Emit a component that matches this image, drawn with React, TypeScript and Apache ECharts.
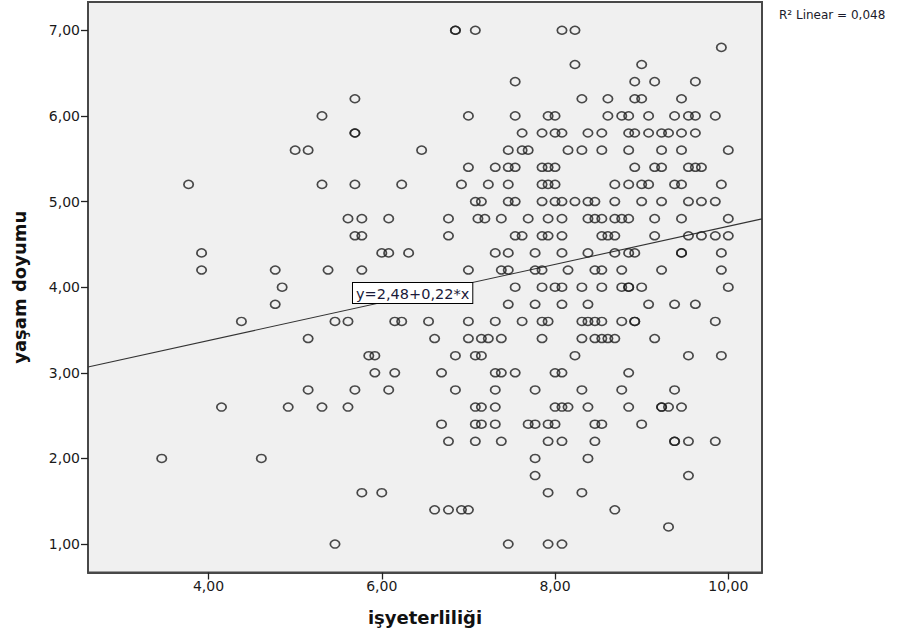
import React, { useEffect, useRef } from "react";
import * as echarts from "echarts";

// x values (işyeterliliği) of the points at each y level (yaşam doyumu)
const xAt7_0 = [6.85, 6.85, 7.08, 8.08, 8.23];
const xAt6_8 = [9.92];
const xAt6_6 = [8.23, 9.0];
const xAt6_4 = [7.54, 8.92, 9.15, 9.62];
const xAt6_2 = [5.69, 8.31, 8.61, 8.92, 9.0, 9.46];
const xAt6_0 = [5.31, 7.0, 7.54, 7.92, 8.0, 8.61, 8.77, 8.85, 9.08, 9.38, 9.54, 9.62, 9.85];
const xAt5_8 = [5.69, 5.69, 7.62, 7.85, 8.0, 8.08, 8.38, 8.54, 8.85, 8.92, 9.08, 9.23, 9.31, 9.46, 9.62];
const xAt5_6 = [5.0, 5.15, 6.46, 7.46, 7.62, 7.69, 8.15, 8.31, 8.54, 8.85, 9.23, 9.46, 10.0];
const xAt5_4 = [7.0, 7.31, 7.46, 7.54, 7.85, 7.92, 8.0, 8.92, 9.15, 9.23, 9.54, 9.62, 9.69];
const xAt5_2 = [3.77, 5.31, 5.69, 6.23, 6.92, 7.23, 7.46, 7.85, 7.92, 8.0, 8.69, 8.85, 9.0, 9.08, 9.38, 9.46, 9.92];
const xAt5_0 = [7.08, 7.15, 7.46, 7.54, 7.85, 8.0, 8.08, 8.23, 8.38, 8.46, 8.69, 9.0, 9.23, 9.54, 9.69, 9.85];
const xAt4_8 = [5.61, 5.77, 6.08, 6.77, 7.11, 7.19, 7.38, 7.69, 7.92, 8.08, 8.38, 8.46, 8.54, 8.69, 8.77, 8.85, 9.15, 9.46, 10.0];
const xAt4_6 = [5.69, 5.77, 6.77, 7.54, 7.62, 7.85, 7.92, 8.08, 8.54, 8.61, 8.69, 9.15, 9.54, 9.69, 9.85, 10.0];
const xAt4_4 = [3.92, 6.0, 6.08, 6.31, 7.31, 7.46, 7.77, 8.08, 8.38, 8.69, 8.85, 8.92, 9.46, 9.46, 9.92];
const xAt4_2 = [3.92, 4.77, 5.38, 5.77, 7.0, 7.38, 7.46, 7.77, 7.85, 8.15, 8.46, 8.54, 8.77, 9.23, 9.92];
const xAt4_0 = [4.85, 7.54, 7.85, 8.0, 8.08, 8.31, 8.54, 8.77, 8.85, 8.85, 9.0, 10.0];
const xAt3_8 = [4.77, 7.46, 7.77, 8.08, 8.38, 9.08, 9.38, 9.62];
const xAt3_6 = [4.38, 5.46, 5.61, 6.15, 6.23, 6.54, 7.0, 7.31, 7.62, 7.85, 7.92, 8.31, 8.38, 8.46, 8.54, 8.77, 8.92, 8.92, 9.85];
const xAt3_4 = [5.15, 6.61, 7.0, 7.15, 7.23, 7.38, 7.85, 8.31, 8.46, 8.54, 8.61, 8.69, 9.15];
const xAt3_2 = [5.85, 5.92, 6.85, 7.08, 7.15, 8.23, 9.54, 9.92];
const xAt3_0 = [5.92, 6.15, 6.69, 7.31, 7.38, 7.54, 8.0, 8.08, 8.85];
const xAt2_8 = [5.15, 5.69, 6.08, 6.85, 7.31, 7.77, 8.31, 8.77, 9.38];
const xAt2_6 = [4.15, 4.92, 5.31, 5.61, 7.08, 7.15, 7.31, 8.0, 8.08, 8.15, 8.38, 8.85, 9.23, 9.23, 9.31, 9.46];
const xAt2_4 = [6.69, 7.08, 7.15, 7.31, 7.69, 7.77, 7.92, 8.0, 8.46, 8.54, 9.0];
const xAt2_2 = [6.77, 7.08, 7.38, 7.92, 8.08, 8.46, 9.38, 9.38, 9.54, 9.85];
const xAt2_0 = [3.46, 4.61, 7.77, 8.38];
const xAt1_8 = [7.77, 9.54];
const xAt1_6 = [5.77, 6.0, 7.92, 8.31];
const xAt1_4 = [6.61, 6.77, 6.92, 7.0, 8.69];
const xAt1_2 = [9.31];
const xAt1_0 = [5.46, 7.46, 7.92, 8.08];

const rows: [number, number[]][] = [
  [7.0, xAt7_0], [6.8, xAt6_8], [6.6, xAt6_6], [6.4, xAt6_4], [6.2, xAt6_2],
  [6.0, xAt6_0], [5.8, xAt5_8], [5.6, xAt5_6], [5.4, xAt5_4], [5.2, xAt5_2],
  [5.0, xAt5_0], [4.8, xAt4_8], [4.6, xAt4_6], [4.4, xAt4_4], [4.2, xAt4_2],
  [4.0, xAt4_0], [3.8, xAt3_8], [3.6, xAt3_6], [3.4, xAt3_4], [3.2, xAt3_2],
  [3.0, xAt3_0], [2.8, xAt2_8], [2.6, xAt2_6], [2.4, xAt2_4], [2.2, xAt2_2],
  [2.0, xAt2_0], [1.8, xAt1_8], [1.6, xAt1_6], [1.4, xAt1_4], [1.2, xAt1_2],
  [1.0, xAt1_0],
];

const xTickValues = [4, 6, 8, 10];
const yTickValues = [1, 2, 3, 4, 5, 6, 7];
const xMin = 2.609;
const xMax = 10.389;
const yMin = 0.668;
const yMax = 7.33;

const fitIntercept = 2.487;
const fitSlope = 0.2224;
const equationText = "y=2,48+0,22*x";
const r2Text = "R² Linear = 0,048";
const xTitle = "işyeterliliği";
const yTitle = "yaşam doyumu";

const FONT = "'DejaVu Sans', sans-serif";
const fmt = (v: number) => v.toFixed(2).replace(".", ",");

export default function App() {
  const ref = useRef<HTMLDivElement>(null);

  useEffect(() => {
    if (!ref.current) return;
    const chart = echarts.init(ref.current, undefined, { renderer: "svg" });

    const points: number[][] = [];
    rows.forEach(([y, xs]) => xs.forEach((x) => points.push([x, y])));

    const fitLine = [
      [xMin, fitIntercept + fitSlope * xMin],
      [xMax, fitIntercept + fitSlope * xMax],
    ];

    chart.setOption({
      animation: false,
      backgroundColor: "#ffffff",
      grid: {
        left: 88,
        right: 142,
        top: 2,
        bottom: 68.5,
        show: true,
        backgroundColor: "#f0f0f0",
        borderColor: "#484848",
        borderWidth: 2,
      },
      xAxis: {
        type: "value",
        min: xMin,
        max: xMax,
        splitLine: { show: false },
        axisLine: { show: true, onZero: false, lineStyle: { color: "#484848", width: 2 } },
        axisTick: { show: true, customValues: xTickValues, length: 7, lineStyle: { color: "#222", width: 1.3 } },
        axisLabel: {
          customValues: xTickValues,
          formatter: (v: number) => fmt(v),
          fontSize: 14,
          color: "#1a1a1a",
          fontFamily: FONT,
          margin: 6,
        },
        name: xTitle,
        nameLocation: "middle",
        nameGap: 36,
        nameTextStyle: { fontSize: 18, fontWeight: "bold", color: "#111", fontFamily: FONT },
      },
      yAxis: {
        type: "value",
        min: yMin,
        max: yMax,
        splitLine: { show: false },
        axisLine: { show: true, onZero: false, lineStyle: { color: "#484848", width: 2 } },
        axisTick: { show: true, customValues: yTickValues, length: 7, lineStyle: { color: "#222", width: 1.3 } },
        axisLabel: {
          customValues: yTickValues,
          formatter: (v: number) => fmt(v),
          fontSize: 14,
          color: "#1a1a1a",
          fontFamily: FONT,
          margin: 8,
        },
        name: yTitle,
        nameLocation: "middle",
        nameGap: 60,
        nameTextStyle: { fontSize: 18, fontWeight: "bold", color: "#111", fontFamily: FONT },
      },
      series: [
        {
          type: "line",
          data: fitLine,
          showSymbol: false,
          silent: true,
          lineStyle: { color: "#333", width: 1.1 },
          z: 2,
        },
        {
          type: "scatter",
          data: points,
          symbol: "circle",
          symbolSize: [9.4, 8],
          silent: true,
          itemStyle: { color: "rgba(0,0,0,0)", borderColor: "#1e1e1e", borderWidth: 1.6 },
          z: 3,
        },
      ],
      graphic: [
        {
          type: "text",
          left: 352,
          top: 282,
          z: 100,
          style: {
            text: equationText,
            font: `14.5px ${FONT}`,
            fill: "#1a1a3a",
            backgroundColor: "#ffffff",
            borderColor: "#000",
            borderWidth: 1,
            padding: [3, 3, 2, 3],
          },
        },
        {
          type: "text",
          left: 779,
          top: 9,
          style: {
            text: r2Text,
            font: `12px ${FONT}`,
            fill: "#1a1a2a",
          },
        },
      ],
    });

    return () => chart.dispose();
  }, []);

  return (
    <div
      ref={ref}
      style={{ position: "fixed", left: 0, top: 0, width: 904, height: 641 }}
    />
  );
}
